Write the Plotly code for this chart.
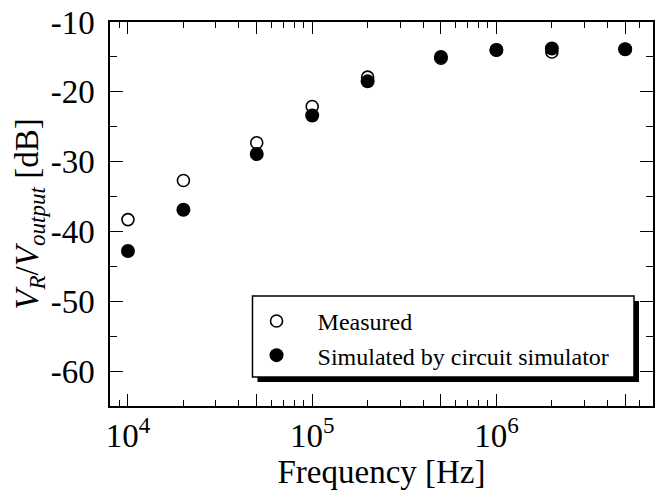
import plotly.graph_objects as go

freq = [1e4, 2e4, 5e4, 1e5, 2e5, 5e5, 1e6, 2e6, 5e6]
measured = [-38.3, -32.7, -27.3, -22.1, -17.9, -15.2, -14.0, -14.3, -13.9]
simulated = [-42.8, -36.9, -28.9, -23.4, -18.5, -15.0, -14.0, -13.8, -13.9]

y_tickvals = [-10, -20, -30, -40, -50, -60]
y_ticktext = ["-10", "-20", "-30", "-40", "-50", "-60"]
x_tickvals = [1e4, 5e4, 1e5, 5e5, 1e6, 5e6]
x_ticktext = ["10<sup>4</sup>", "", "10<sup>5</sup>", "", "10<sup>6</sup>", ""]
x_minor = [k * 10 ** e for e in (3, 4, 5, 6) for k in (2, 3, 4, 6, 7, 8, 9)]

FONT = "Liberation Serif"

fig = go.Figure()
fig.add_trace(go.Scatter(
    x=freq, y=measured, mode="markers", name="Measured",
    marker=dict(symbol="circle-open", size=12, color="black", line=dict(width=1.6, color="black")),
))
fig.add_trace(go.Scatter(
    x=freq, y=simulated, mode="markers", name="Simulated by circuit simulator",
    marker=dict(symbol="circle", size=14, color="black"),
))

# legend box with drop shadow
bx0, bx1, by0, by1 = 0.2624, 0.965, 0.0755, 0.2865
dx, dy = 5 / 545, 5 / 384
fig.add_shape(type="rect", xref="paper", yref="paper", x0=bx0 + dx, x1=bx1 + dx, y0=by0 - dy, y1=by1 - dy,
              fillcolor="black", line=dict(width=0), layer="above")
fig.add_shape(type="rect", xref="paper", yref="paper", x0=bx0, x1=bx1, y0=by0, y1=by1,
              fillcolor="white", line=dict(width=1.5, color="black"), layer="above")

fig.update_layout(
    width=656, height=494,
    margin=dict(l=110, r=1, t=22, b=88),
    paper_bgcolor="white", plot_bgcolor="white",
    font=dict(family=FONT, color="black", size=33),
    showlegend=True,
    legend=dict(
        x=0.2312, y=0.279, xanchor="left", yanchor="top",
        bgcolor="rgba(0,0,0,0)", borderwidth=0,
        font=dict(family=FONT, size=24, color="black"),
        itemwidth=72, tracegroupgap=0,
    ),
)
fig.update_xaxes(
    type="log", range=[3.9025, 6.85],
    tickvals=x_tickvals, ticktext=x_ticktext,
    ticks="inside", ticklen=12, tickwidth=1.2, tickcolor="black",
    minor=dict(tickvals=x_minor, ticks="inside", ticklen=6, tickwidth=1.2, tickcolor="black"),
    showline=True, linecolor="black", linewidth=1.5, mirror="allticks",
    showgrid=False, zeroline=False,
    tickfont=dict(family=FONT, size=33, color="black"),
    title=dict(text="Frequency [Hz]", font=dict(family=FONT, size=33, color="black"), standoff=2),
)
fig.update_yaxes(
    range=[-65, -10],
    tickvals=y_tickvals, ticktext=y_ticktext,
    ticks="inside", ticklen=13, tickwidth=1.2, tickcolor="black",
    minor=dict(dtick=5, ticks="inside", ticklen=7, tickwidth=1.2, tickcolor="black"),
    showline=True, linecolor="black", linewidth=1.5, mirror="allticks",
    showgrid=False, zeroline=False,
    ticklabelstandoff=7,
    tickfont=dict(family=FONT, size=33, color="black"),
    title=dict(text="<i>V</i><sub><i>R</i></sub>/<i>V</i><sub><i>output</i></sub> [dB]",
               font=dict(family=FONT, size=33, color="black"), standoff=2),
)

fig.write_html("out.html")
